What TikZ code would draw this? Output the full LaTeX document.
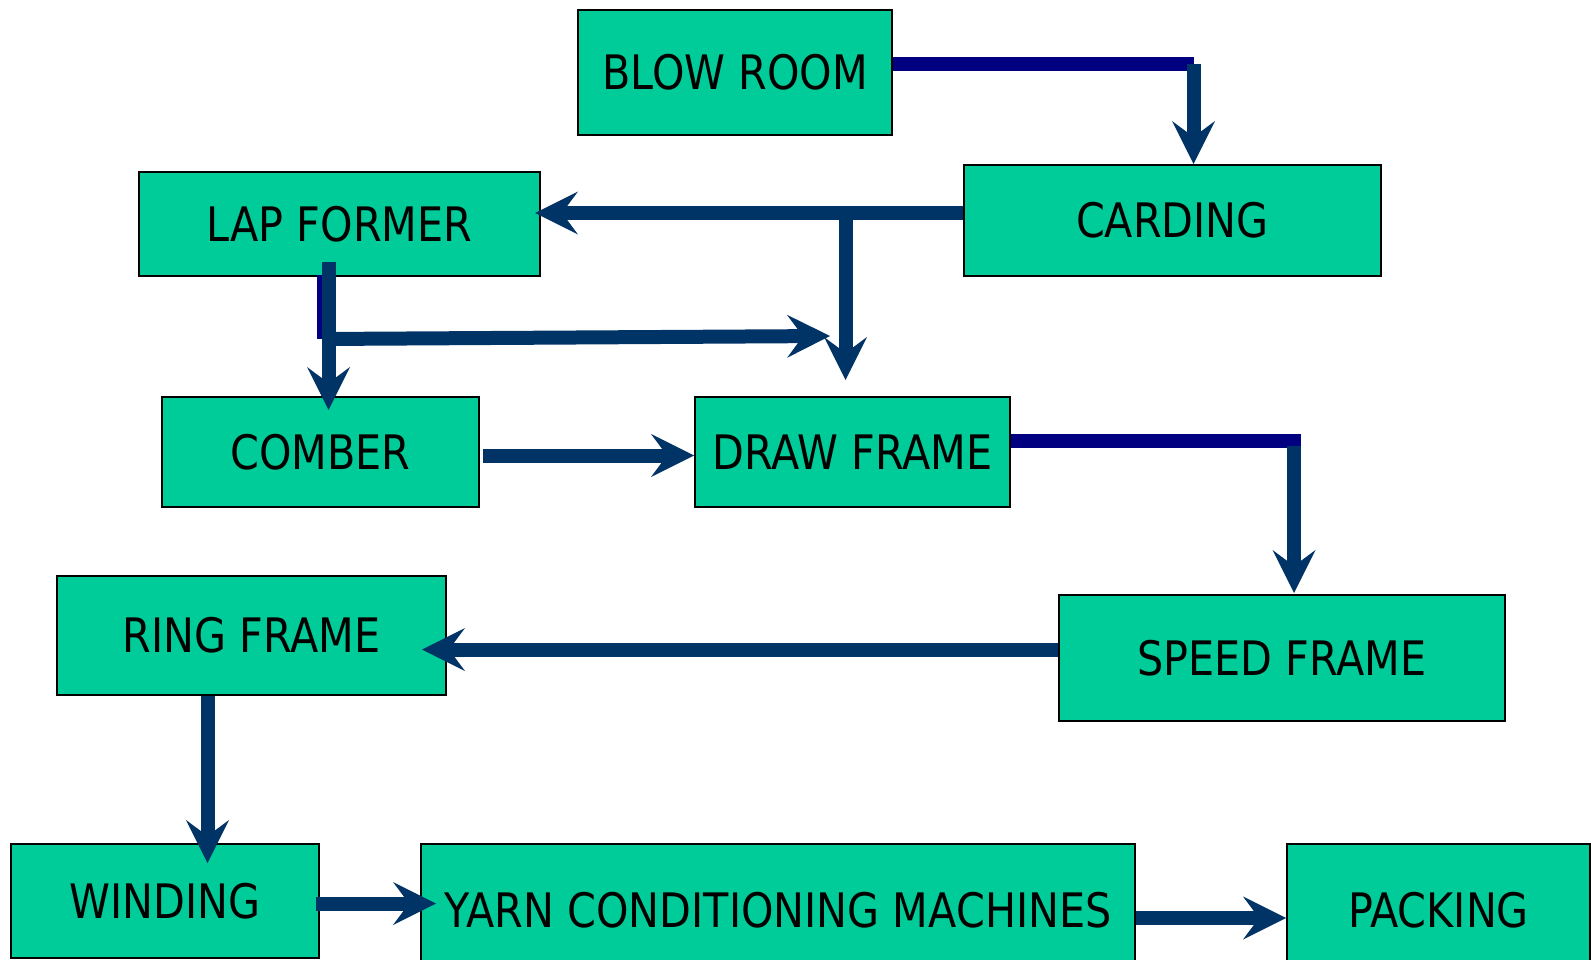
\documentclass[tikz,border=0pt]{standalone}
\usepackage{fontspec}
\newfontfamily\boxfont[FakeStretch=0.87]{DejaVu Sans}
\usetikzlibrary{arrows.meta}
\definecolor{boxgreen}{HTML}{00CC99}
\definecolor{arrowblue}{HTML}{003366}
\definecolor{navyline}{HTML}{000080}
\begin{document}
\begin{tikzpicture}[x=1pt,y=-1pt,
  procbox/.style={draw=black,line width=2pt,fill=boxgreen,inner sep=0pt,anchor=north west,
    font=\boxfont\fontsize{47.5}{56}\selectfont},
  flowarrow/.style={draw=arrowblue,line width=14pt,
    -{Stealth[length=43pt,width=43pt,inset=16pt,line width=0pt]}},
  navyseg/.style={draw=navyline,line width=14pt},
  darkseg/.style={draw=arrowblue,line width=14pt}]
\useasboundingbox (0,0) rectangle (1591,960);
\clip (0,0) rectangle (1591,960);
\fill[white] (0,0) rectangle (1591,960);
% boxes
\node[procbox,minimum width=314pt,minimum height=125pt] (blow) at (577,9) {BLOW ROOM};
\node[procbox,minimum width=417pt,minimum height=111pt] (card) at (963,164) {CARDING};
\node[procbox,minimum width=401pt,minimum height=104pt] (lap) at (138,171) {LAP FORMER};
\node[procbox,minimum width=317pt,minimum height=110pt] (comb) at (161,396) {COMBER};
\node[procbox,minimum width=315pt,minimum height=110pt] (draw) at (694,396) {DRAW FRAME};
\node[procbox,minimum width=446pt,minimum height=126pt] (speed) at (1058,594) {SPEED FRAME};
\node[procbox,minimum width=389pt,minimum height=119pt] (ring) at (56,575) {RING FRAME};
\node[procbox,minimum width=308pt,minimum height=114pt] (wind) at (10,843) {WINDING};
\node[procbox,minimum width=714pt,minimum height=132pt] (yarn) at (420,843) {YARN CONDITIONING MACHINES};
\node[procbox,minimum width=303pt,minimum height=132pt] (pack) at (1286,843) {PACKING};
% coordinates
\coordinate (b2) at (1193.5,64.5);
\coordinate (j1) at (845.5,213);
\coordinate (j1end) at (845.5,380);
\coordinate (l1) at (328.5,262);
\coordinate (l2) at (322,339);
\coordinate (l2end) at (830,336);
\coordinate (d2) at (1301,440.5);
% connectors
\draw[navyseg] (blow.east |- b2) -- (b2);
\draw[flowarrow] (b2) -- (b2 |- card.north);
\draw[flowarrow] (card.west |- j1) -- ([xshift=-6pt]lap.east |- j1);
\draw[flowarrow] (j1) -- (j1end);
\draw[navyseg] (323.5,275) -- (323.5,339);
\draw[flowarrow] (l1) -- ([yshift=-14pt]l1 |- comb.north);
\draw[flowarrow] (l2) -- (l2end);
\draw[flowarrow] ([xshift=3pt]comb.east |- 0,455.5) -- (draw.west |- 0,455.5);
\draw[navyseg] (draw.east |- d2) -- (d2);
\draw[flowarrow] (1294,446) -- (1294,593);
\draw[flowarrow] (speed.west |- 0,649.5) -- ([xshift=-25pt]ring.east |- 0,649.5);
\draw[flowarrow] (ring.south -| 207.5,0) -- ([yshift=-20pt]wind.north -| 207.5,0);
\draw[flowarrow] ([xshift=-4pt]wind.east |- 0,903.5) -- ([xshift=16pt]yarn.west |- 0,903.5);
\draw[flowarrow] (yarn.east |- 0,918) -- (pack.west |- 0,918);
\end{tikzpicture}
\end{document}
